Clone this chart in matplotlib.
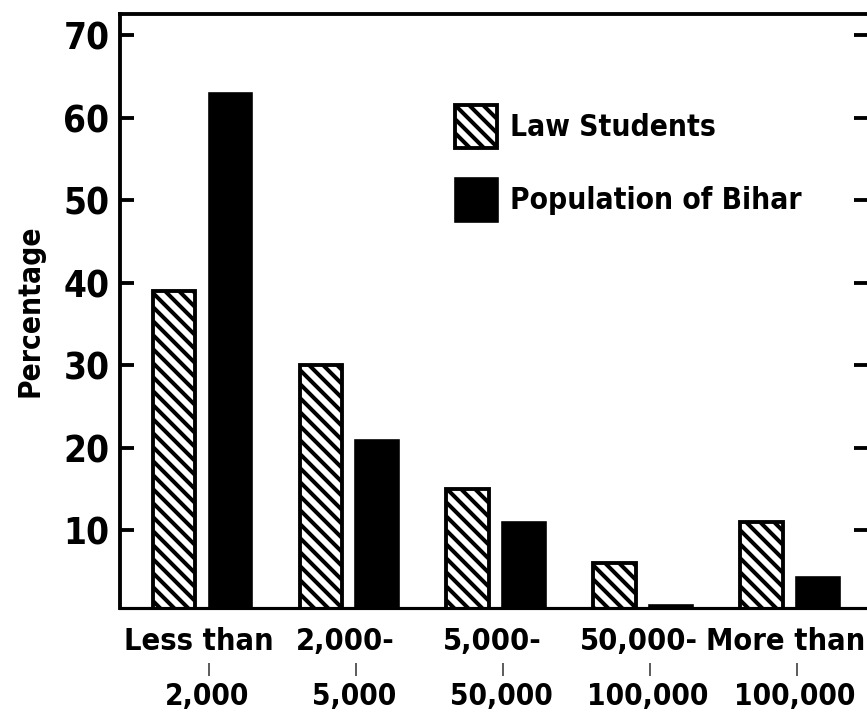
import matplotlib
matplotlib.use("Agg")
import matplotlib.pyplot as plt
import numpy as np

# town size of home (categories), two series in percent
top_lines = ["Less than", "2,000-", "5,000-", "50,000-", "More than"]
bottom_lines = ["2,000", "5,000", "50,000", "100,000", "100,000"]
law_students = [39, 30, 15, 6, 11]
population_bihar = [63, 21, 11, 1, 4.3]
yticks = [10, 20, 30, 40, 50, 60, 70]

plt.rcParams['font.family'] = ['DejaVu Sans']
plt.rcParams['font.stretch'] = 'condensed'
plt.rcParams['font.weight'] = 'bold'
plt.rcParams['axes.labelweight'] = 'bold'
plt.rcParams['hatch.linewidth'] = 2.3
plt.rcParams['hatch.color'] = 'black'

DPI = 126
fig = plt.figure(figsize=(867 / DPI, 717 / DPI), dpi=DPI)
ax = fig.add_axes([120 / 867, 109 / 717, 748 / 867, 594 / 717])

x = np.arange(len(top_lines))
w = 0.29
ax.bar(x - 0.19, law_students, w, color='white', edgecolor='black',
       linewidth=2.2, hatch='\\\\\\', label='Law Students')
ax.bar(x + 0.19, population_bihar, w, color='black', edgecolor='black',
       linewidth=1.5, label='Population of Bihar')

ax.set_xlim(-0.558, 4.535)
ax.set_ylim(0.6, 72.6)

ax.set_yticks(yticks)
ax.tick_params(axis='y', which='both', direction='in', length=8, width=2.2,
               labelsize=21, right=True, pad=6)
ax.set_xticks([])
for s in ['left', 'top']:
    ax.spines[s].set_linewidth(2.2)
ax.spines['bottom'].set_linewidth(1.8)
ax.spines['right'].set_visible(False)

ax.set_ylabel('Percentage', fontsize=17, labelpad=11)

trans = ax.get_xaxis_transform()
for i in range(len(top_lines)):
    ax.annotate(top_lines[i], (x[i], 0), xycoords=trans, xytext=(-2, -19),
                textcoords='offset points', ha='center', va='center', fontsize=17.5)
    ax.annotate('|', (x[i], 0), xycoords=trans, xytext=(4, -35),
                textcoords='offset points', ha='center', va='center', fontsize=7)
    ax.annotate(bottom_lines[i], (x[i], 0), xycoords=trans, xytext=(3, -50.5),
                textcoords='offset points', ha='center', va='center', fontsize=17)

ax.legend(loc='upper left', bbox_to_anchor=(0.412, 0.892), frameon=False,
          fontsize=17, handlelength=1.4, handleheight=1.85, handletextpad=0.45,
          labelspacing=1.0)

fig.savefig('out.png', dpi=DPI)
